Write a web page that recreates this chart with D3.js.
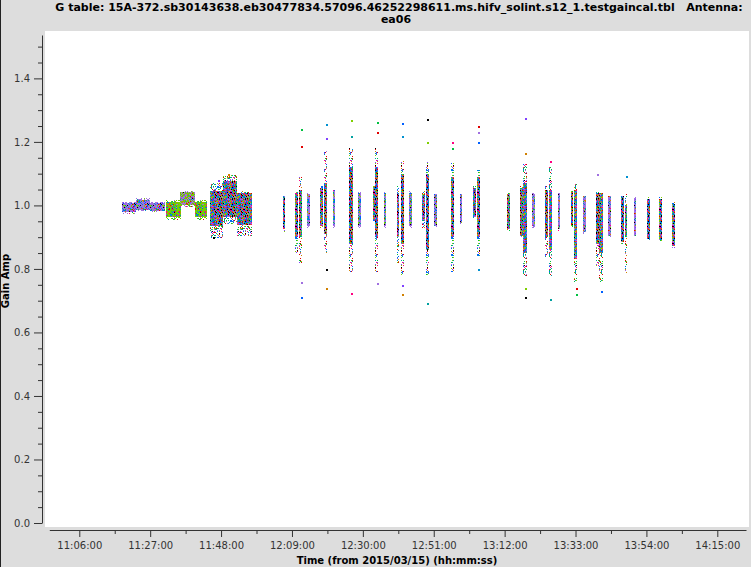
<!DOCTYPE html>
<html><head><meta charset="utf-8">
<script src="https://cdn.jsdelivr.net/npm/d3@7"></script>
<style>html,body{margin:0;padding:0;background:#dddddd;overflow:hidden}svg{display:block}</style>
</head><body>
<script>
// ---------------- data ----------------
const title1 = "G table: 15A-372.sb30143638.eb30477834.57096.46252298611.ms.hifv_solint.s12_1.testgaincal.tbl   Antenna:";
const title2 = "ea06";
const xTitle = "Time (from 2015/03/15) (hh:mm:ss)";
const yTitle = "Gain Amp";
const xTickLabels = ["11:06:00","11:27:00","11:48:00","12:09:00","12:30:00","12:51:00","13:12:00","13:33:00","13:54:00","14:15:00"];
const xMinorTicks = ["11:16:30","11:37:30","11:58:30","12:19:30","12:40:30","13:01:30","13:22:30","13:43:30","14:04:30"];
const yTickLabels = ["0.0","0.2","0.4","0.6","0.8","1.0","1.2","1.4"];
const yMinorTicks = [0.05,0.1,0.15,0.25,0.3,0.35,0.45,0.5,0.55,0.65,0.7,0.75,0.85,0.9,0.95,1.05,1.1,1.15,1.25,1.3,1.35,1.45,1.5];
const xDomain = ["10:57:07","14:23:30"];
const yDomain = [0, 1.5366];

// scans (solution intervals): start, end, full amp range, dense core range
const scanStart = ["11:18:39","11:22:48","11:26:57","11:31:41","11:35:50","11:40:16","11:44:43","11:48:39","11:52:37",
  "12:06:13","12:09:59","12:11:05","12:13:32","12:17:23","12:18:29","12:21:02","12:25:59","12:28:39","12:32:53","12:33:36","12:36:08",
  "12:39:59","12:41:11","12:43:45","12:47:29","12:48:35","12:51:09","12:55:59","12:58:39","13:02:42","13:03:41","13:12:40","13:16:38",
  "13:17:31","13:20:11","13:24:02","13:25:01","13:27:41","13:31:32","13:32:33","13:35:10","13:39:02","13:40:02","13:42:35","13:46:33",
  "13:47:32","13:50:12","13:54:08","13:57:48","14:01:32"];
const scanEnd = ["11:22:48","11:26:57","11:31:23","11:36:08","11:40:16","11:43:50","11:48:39","11:52:37","11:57:04",
  "12:07:03","12:10:49","12:12:05","12:14:22","12:18:13","12:19:29","12:21:52","12:26:59","12:29:29","12:33:43","12:34:36","12:36:58",
  "12:40:49","12:42:11","12:44:35","12:48:19","12:49:35","12:51:59","12:56:59","12:59:29","13:03:32","13:04:41","13:13:30","13:17:28",
  "13:18:31","13:21:01","13:24:52","13:26:01","13:28:31","13:32:22","13:33:33","13:36:00","13:39:52","13:41:02","13:43:25","13:47:23",
  "13:48:22","13:51:02","13:54:58","13:58:38","14:02:22"];
const ampLo = [0.974,0.982,0.978,0.955,0.995,0.955,0.898,0.940,0.905,
  0.917,0.850,0.820,0.930,0.930,0.850,0.930,0.790,0.930,0.950,0.790,0.930,
  0.820,0.780,0.930,0.930,0.780,0.930,0.790,0.940,0.960,0.840,0.920,0.900,
  0.770,0.930,0.835,0.770,0.920,0.930,0.760,0.910,0.810,0.760,0.900,0.880,
  0.780,0.900,0.890,0.885,0.867];
const ampHi = [1.012,1.022,1.010,1.018,1.046,1.016,1.070,1.100,1.045,
  1.034,1.050,1.090,1.040,1.060,1.170,1.050,1.180,1.045,1.065,1.180,1.045,
  1.060,1.140,1.045,1.045,1.140,1.040,1.135,1.040,1.060,1.110,1.040,1.060,
  1.130,1.040,1.060,1.120,1.040,1.050,1.066,1.034,1.050,1.040,1.034,1.034,
  1.035,1.028,1.025,1.025,1.010];
const coreLo = [0.978,0.987,0.981,0.965,1.000,0.962,0.934,0.965,0.939,
  0.925,0.900,0.900,0.935,0.935,0.910,0.935,0.880,0.935,0.955,0.900,0.935,
  0.900,0.880,0.935,0.950,0.860,0.935,0.900,0.945,0.965,0.900,0.925,0.905,
  0.850,0.935,0.900,0.860,0.925,0.935,0.830,0.915,0.880,0.850,0.905,0.885,
  0.900,0.905,0.895,0.890,0.872];
const coreHi = [1.008,1.016,1.007,1.012,1.042,1.012,1.044,1.076,1.039,
  1.030,1.040,1.050,1.036,1.055,1.070,1.045,1.120,1.040,1.060,1.120,1.040,
  1.040,1.100,1.040,1.030,1.100,1.035,1.090,1.035,1.055,1.090,1.035,1.055,
  1.070,1.035,1.050,1.050,1.035,1.045,1.050,1.030,1.040,1.040,1.030,1.030,
  1.000,1.024,1.020,1.020,1.005];

const outlierTime = ["12:11:35","12:11:35","12:11:35","12:11:35","12:18:59","12:18:59","12:18:59","12:18:59",
  "12:26:29","12:26:29","12:26:29","12:34:06","12:34:06","12:34:06","12:41:41","12:41:41","12:41:41","12:41:41",
  "12:49:05","12:49:05","12:49:05","12:56:29","12:56:29","13:04:11","13:04:11","13:04:11","13:04:11",
  "13:18:01","13:18:01","13:18:01","13:18:01","13:25:31","13:25:31","13:33:03","13:33:03","13:39:27","13:40:32",
  "13:47:57","11:47:00","11:50:00","11:45:30"];
const outlierAmp = [1.242,1.188,0.760,0.713,1.257,1.213,0.740,0.800,
  1.270,1.220,0.725,1.264,1.230,0.757,1.260,1.220,0.750,0.720,
  1.273,1.200,0.694,1.200,1.180,1.250,1.230,1.200,0.800,
  1.276,1.166,0.713,0.740,0.706,1.140,0.722,0.740,1.100,0.730,
  1.094,1.080,1.100,0.900];

// ---------------- style ----------------
const W = 751, H = 567;
const palette = ["#00a0a0","#d08000","#0060ff","#00c040","#7fd000","#8040ff","#a070e0","#ff0080","#000000","#0090d0","#e00000"];
const scanStyle = ["purple","purple","purple","green","pg","green","multi","multi","multi"];
const purpleScans = new Set([12,15,17,20,23,26,28,34,37,40,43,46]);
const styleOf = i => i < scanStyle.length ? scanStyle[i] : (purpleScans.has(i) ? "purple" : "multi");

const parse = d3.timeParse("%H:%M:%S");
const svg = d3.select("body").append("svg").attr("width", W).attr("height", H)
  .style("font-family", "'DejaVu Sans', sans-serif");

svg.append("rect").attr("width", W).attr("height", H).attr("fill", "#dddddd");
svg.append("rect").attr("x", 0).attr("y", 0).attr("width", 1).attr("height", H).attr("fill", "#222");
svg.append("rect").attr("x", 45).attr("y", 31).attr("width", 704).attr("height", 496).attr("fill", "#fff");

const x = d3.scaleTime().domain(xDomain.map(parse)).range([49.3, 746]);
const y = d3.scaleLinear().domain(yDomain).range([523, 35]);

// texture patterns
const defs = svg.append("defs");
function hsh(i, j, s) {
  let h = (Math.imul(i, 374761393) + Math.imul(j, 668265263) + Math.imul(s, 982451653)) | 0;
  h = Math.imul(h ^ (h >>> 13), 1274126177);
  return (h ^ (h >>> 16)) >>> 0;
}
function makePattern(id, w, h, seed, pick) {
  const p = defs.append("pattern").attr("id", id).attr("patternUnits", "userSpaceOnUse")
    .attr("width", w).attr("height", h);
  for (let i = 0; i < w; i++) for (let j = 0; j < h; j++) {
    const c = pick(hsh(i, j, seed));
    if (c) p.append("rect").attr("x", i).attr("y", j).attr("width", 1).attr("height", 1).attr("fill", c);
  }
}
const base = {
  multi: v => palette[v % palette.length],
  purple: v => (v % 10 < 6) ? "#a070e0" : palette[(v >>> 4) % palette.length],
  green: v => (v % 10 < 6) ? "#72cc00" : palette[(v >>> 4) % palette.length],
  pg: v => (v % 10 < 4) ? "#a070e0" : (v % 10 < 8 ? "#72cc00" : palette[(v >>> 4) % palette.length])
};
Object.keys(base).forEach((k, n) => {
  makePattern("d_" + k, 13, 17, n + 1, base[k]);
  makePattern("s_" + k, 13, 17, n + 11, v => ((v >>> 8) % 100 < 35) ? base[k](v) : null);
});

const scans = scanStart.map((s, i) => ({i, s: parse(s), e: parse(scanEnd[i]), lo: ampLo[i], hi: ampHi[i], clo: coreLo[i], chi: coreHi[i]}));
const g = svg.append("g").attr("shape-rendering", "crispEdges");
g.selectAll("rect.sparse").data(scans).join("rect").attr("class", "sparse")
  .attr("x", d => x(d.s)).attr("width", d => Math.max(2, x(d.e) - x(d.s)))
  .attr("y", d => y(d.hi)).attr("height", d => y(d.lo) - y(d.hi))
  .attr("fill", d => `url(#s_${styleOf(d.i)})`);
g.selectAll("rect.core").data(scans).join("rect").attr("class", "core")
  .attr("x", d => x(d.s)).attr("width", d => Math.max(2, x(d.e) - x(d.s)))
  .attr("y", d => y(d.chi)).attr("height", d => y(d.clo) - y(d.chi))
  .attr("fill", d => `url(#d_${styleOf(d.i)})`);

const outl = outlierTime.map((t, i) => ({t: parse(t), a: outlierAmp[i], i}));
g.selectAll("rect.out").data(outl).join("rect").attr("class", "out")
  .attr("x", d => Math.round(x(d.t))).attr("y", d => Math.round(y(d.a)))
  .attr("width", 2).attr("height", 2)
  .attr("fill", d => palette[(d.i * 7 + 3) % palette.length]);

// axes
const axisColor = "#333";
svg.append("g").attr("transform", "translate(42,0)")
  .call(d3.axisLeft(y).tickValues(yTickLabels.map(Number)).tickFormat((d, i) => yTickLabels[i]).tickSize(8).tickSizeOuter(0).tickPadding(4));
svg.append("g").attr("transform", "translate(42,0)")
  .call(d3.axisLeft(y).tickValues(yMinorTicks).tickFormat("").tickSize(4).tickSizeOuter(0))
  .select(".domain").remove();
svg.append("g").attr("transform", "translate(0,530)")
  .call(d3.axisBottom(x).tickValues(xTickLabels.map(parse)).tickFormat((d, i) => xTickLabels[i]).tickSize(7).tickSizeOuter(0).tickPadding(5));
svg.append("g").attr("transform", "translate(0,530)")
  .call(d3.axisBottom(x).tickValues(xMinorTicks.map(parse)).tickFormat("").tickSize(4).tickSizeOuter(0))
  .select(".domain").remove();
svg.selectAll(".tick line, .domain").attr("stroke", axisColor);
svg.selectAll(".tick text").attr("fill", "#333").style("font-size", "10px").style("font-family", "'DejaVu Sans', sans-serif");

// titles
svg.append("text").attr("x", 399).attr("y", 11).attr("text-anchor", "middle")
  .style("font-size", "11px").style("font-weight", "bold").style("white-space", "pre").attr("fill", "#000").text(title1);
svg.append("text").attr("x", 396).attr("y", 23).attr("text-anchor", "middle")
  .style("font-size", "11px").style("font-weight", "bold").attr("fill", "#000").text(title2);
svg.append("text").attr("x", 397).attr("y", 564).attr("text-anchor", "middle")
  .style("font-size", "10px").style("font-weight", "bold").attr("fill", "#000").text(xTitle);
svg.append("text").attr("transform", "translate(9,281) rotate(-90)").attr("text-anchor", "middle")
  .style("font-size", "10px").style("font-weight", "bold").attr("fill", "#000").text(yTitle);
</script>
</body></html>
